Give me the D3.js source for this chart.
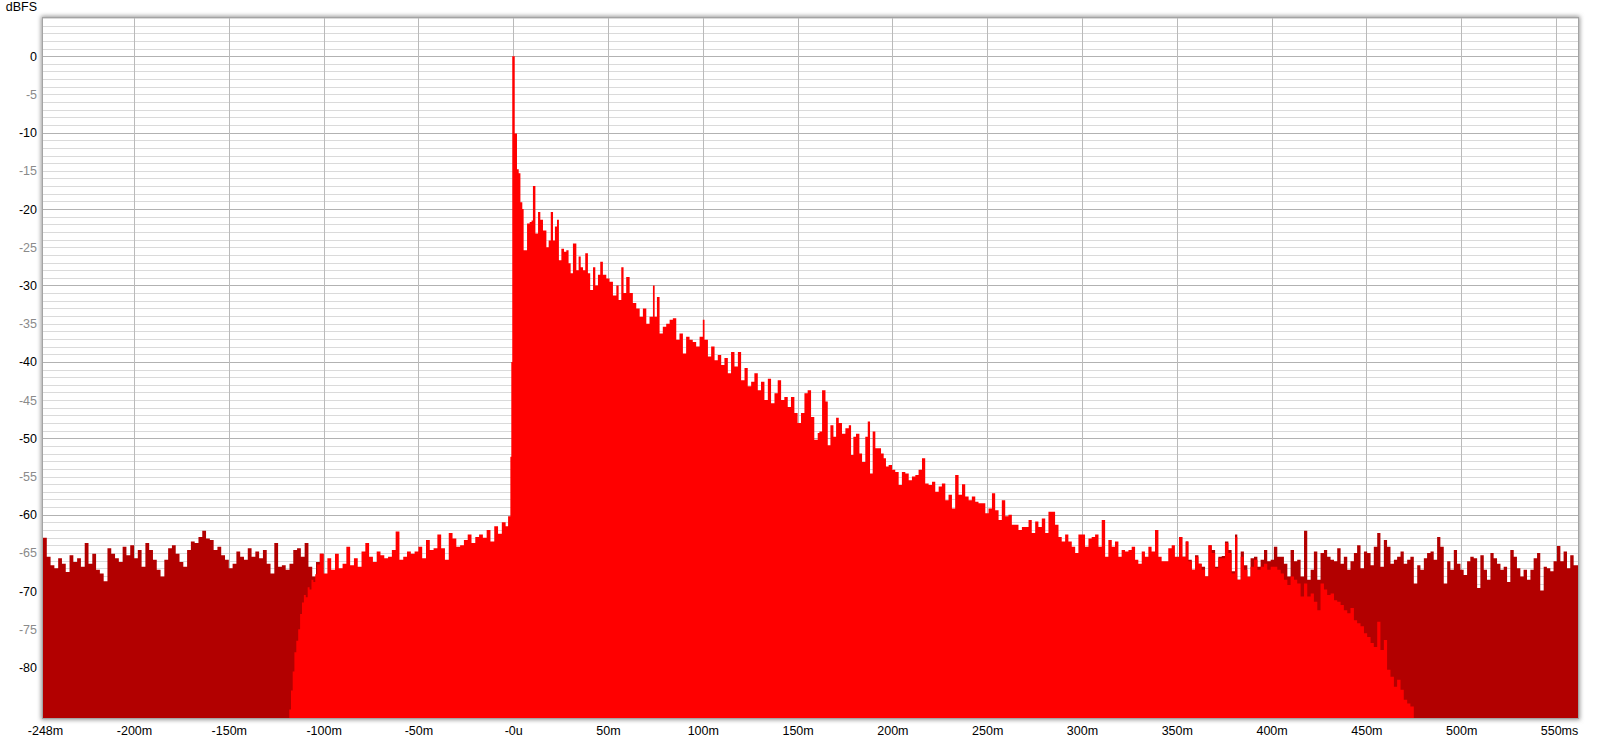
<!DOCTYPE html>
<html><head><meta charset="utf-8">
<script src="https://cdn.jsdelivr.net/npm/d3@7"></script>
<style>
body{margin:0;background:#fff}
svg{display:block}
text{font-family:"Liberation Sans",Arial,sans-serif;font-size:12.5px}
</style>
</head><body>
<svg id="chart" width="1600" height="743"></svg>
<script>
// ---- data (time in ms, level in dBFS) ----
const xTicks = [-248,-200,-150,-100,-50,0,50,100,150,200,250,300,350,400,450,500,550];
const xTickLabels = ["-248m","-200m","-150m","-100m","-50m","-0u","50m","100m","150m","200m","250m","300m","350m","400m","450m","500m","550ms"];
const yTicks = [0,-5,-10,-15,-20,-25,-30,-35,-40,-45,-50,-55,-60,-65,-70,-75,-80];
const yTickLabels = ["0","-5","-10","-15","-20","-25","-30","-35","-40","-45","-50","-55","-60","-65","-70","-75","-80"];
const yTitle = "dBFS";

// unwindowed impulse response, visible before the window opens
const noiseLeft = [[-248,-63.0],[-246,-65.5],[-244,-66.6],[-242,-67.0],[-240,-65.7],[-238,-66.4],[-236,-67.5],[-234,-65.3],[-232,-66.2],[-230,-65.7],[-228,-66.8],[-226,-63.7],[-224,-66.4],[-222,-65.1],[-220,-67.2],[-218,-67.7],[-216,-68.7],[-214,-64.4],[-212,-65.1],[-210,-65.7],[-208,-66.2],[-206,-64.2],[-204,-65.3],[-202,-64.0],[-200,-65.7],[-198,-64.6],[-196,-66.8],[-194,-63.7],[-192,-64.6],[-190,-65.9],[-188,-67.2],[-186,-68.1],[-184,-65.9],[-182,-64.4],[-180,-64.0],[-178,-65.1],[-176,-66.2],[-174,-66.8],[-172,-64.6],[-170,-63.5],[-168,-63.7],[-166,-62.9],[-164,-62.1],[-162,-63.1],[-160,-63.3],[-158,-64.6],[-156,-64.2],[-154,-65.3],[-152,-65.9],[-150,-67.0],[-148,-66.4],[-146,-64.8],[-144,-65.5],[-142,-65.9],[-140,-64.4],[-138,-65.5],[-136,-64.8],[-134,-65.7],[-132,-64.6],[-130,-66.4],[-128,-67.7],[-126,-63.7],[-124,-66.8],[-122,-66.6],[-120,-67.2],[-118,-66.4],[-116,-64.6],[-114,-64.4],[-112,-65.5],[-110,-63.7],[-108,-66.8],[-106,-68.1],[-104,-66.2],[-102,-65.1],[-100,-65.1]];

// windowed impulse response
const windowed = [[-118.1,-85.5],[-117.2,-83.0],[-116.3,-80.5],[-115.4,-78.0],[-114.4,-76.5],[-113.4,-75.0],[-112.4,-73.0],[-111.4,-71.5],[-110.4,-70.5],[-109.4,-70.8],[-108.4,-69.5],[-107.4,-69.8],[-106.4,-68.5],[-105.4,-68.8],[-104.4,-67.8],[-103.4,-66.5],
[-102,-65.1],[-100,-67.7],[-98,-65.7],[-96,-67.2],[-94,-65.1],[-92,-67.0],[-90,-66.4],[-88,-64.2],[-86,-66.6],[-84,-65.7],[-82,-66.8],[-80,-64.8],[-78,-63.7],[-76,-65.5],[-74,-66.2],[-72,-64.8],[-70,-65.3],[-68,-65.7],[-66,-65.5],[-64,-64.6],[-62,-62.2],[-60,-65.9],[-58,-65.5],[-56,-64.8],[-54,-65.1],[-52,-64.8],[-50,-64.2],[-48,-65.7],[-46,-63.3],[-44,-64.6],[-42,-64.4],[-40,-62.6],[-38,-64.4],[-36,-65.9],[-34,-62.4],[-32,-63.1],[-30,-64.2],[-28,-64.0],[-26,-63.3],[-24,-62.6],[-22,-63.7],[-20,-62.9],[-18,-62.6],[-16,-63.0],[-14,-62.0],[-12,-63.5],[-10,-61.5],[-8,-62.5],[-6,-61.0],[-4,-61.5],[-2.7,-60.2],[-1.5,-52.4],[-1.0,-40.0],
[-0.5,0.0],[0.8,-10.1],[2.0,-14.8],[2.9,-15.3],[3.8,-19.1],[4.8,-20.0],[5.5,-25.4],[7.3,-21.9],[8.7,-21.7],[9.7,-21.5],[10.4,-17.0],[11.7,-23.2],[13.1,-20.4],[14.3,-21.4],[15.7,-22.8],[17.5,-25.0],[18.7,-24.1],[19.8,-20.4],[21.0,-24.1],[22.0,-22.3],[23.1,-21.4],[24.1,-26.7],[25.4,-25.2],[26.8,-25.6],[28.0,-25.4],[29.2,-27.1],[30.3,-28.4],[31.5,-24.5],[33.3,-28.0],[34.5,-26.2],[35.6,-27.6],[36.8,-28.0],[38.0,-25.8],[39.4,-28.4],[40.6,-30.6],[42.1,-27.6],[43.3,-30.0],[44.7,-28.6],[45.9,-26.9],[47.3,-28.6],[49.1,-29.1],[50.8,-29.5],[52.6,-31.3],[54.4,-30.0],[55.6,-31.9],[57.0,-27.6],[58.2,-31.0],[59.6,-28.9],[61.4,-31.0],[63.1,-32.3],[64.9,-33.0],[66.7,-34.1],[68.4,-33.0],[70.2,-35.0],[71.9,-34.1],[73.7,-30.0],[74.6,-34.1],[75.8,-31.5],[77.2,-36.3],[78.9,-35.4],[80.7,-35.0],[82.5,-34.5],[84.2,-34.3],[86.0,-37.1],[87.7,-36.3],[89.5,-38.9],[91.2,-36.7],[93.0,-37.1],[94.7,-37.4],[96.5,-38.0],[98.3,-36.7],[100.0,-34.5],[100.9,-37.1],[102.7,-39.3],[104.4,-38.0],[106.2,-39.8],[107.9,-39.1],[109.7,-40.4],[111.4,-39.5],[113.2,-41.5],[114.9,-38.7],[116.7,-40.6],[118.5,-38.7],[120.2,-42.4],[122.0,-40.8],[123.7,-43.2],[125.5,-42.6],[127.2,-41.5],[129.0,-43.7],[130.7,-42.6],[132.5,-45.0],[134.3,-42.2],[136.0,-45.4],[137.8,-44.1],[139.5,-42.4],[141.3,-45.0],[143.0,-44.6],[144.8,-45.9],[146.5,-44.6],[148.3,-46.7],[150.0,-48.0],[151.8,-46.7],[153.6,-44.1],[155.3,-43.7],[157.1,-47.2],[158.8,-50.2],[160.6,-49.3],
[161.5,-49.1],[162.9,-43.7],[164.7,-45.2],[165.9,-50.9],[167.3,-48.3],[168.9,-49.8],[170.3,-47.3],[171.7,-48.0],[173.4,-49.4],[175.2,-48.7],[177.0,-48.3],[178.2,-52.2],[179.4,-49.8],[180.8,-49.4],[182.6,-52.0],[184.0,-53.1],[185.7,-49.8],[187.0,-47.8],[188.2,-54.6],[189.6,-49.1],[191.0,-51.3],[192.8,-51.3],[194.0,-52.0],[195.4,-52.6],[196.6,-53.7],[198.0,-53.5],[199.8,-54.1],[201.5,-54.4],[203.3,-56.1],[205.0,-54.4],[206.8,-54.6],[208.6,-55.5],[210.3,-55.0],[212.1,-54.8],[213.8,-54.1],[215.6,-52.6],[217.3,-55.9],[219.1,-56.1],[220.9,-55.7],[222.6,-57.0],[224.4,-56.3],[226.1,-55.9],[227.9,-58.1],[229.6,-57.4],[231.4,-59.2],[233.1,-54.8],[234.9,-57.4],[236.7,-56.0],[238.4,-57.6],[240.2,-58.1],[241.9,-57.6],[243.7,-58.3],[245.4,-58.5],[247.2,-58.5],[249.0,-59.8],[250.7,-59.2],[252.5,-57.2],[254.2,-59.4],[256.0,-60.7],[257.7,-58.1],[259.5,-60.2],[261.2,-60.0],[263.0,-61.3],[264.8,-61.3],[266.5,-62.0],[268.3,-61.6],[270.0,-61.6],[271.8,-60.7],[273.5,-62.4],[275.3,-60.9],[277.0,-61.6],[278.8,-60.5],[280.6,-62.4],[282.3,-59.6],[284.1,-59.6],[285.8,-61.3],[287.6,-62.9],[289.3,-63.5],[291.1,-62.6],[292.8,-63.5],[294.6,-64.2],[296.4,-65.0],[298.1,-62.6],[299.9,-62.6],[301.6,-64.2],[303.4,-63.1],[305.1,-62.9],[306.9,-62.6],[308.7,-64.2],[310.4,-60.7],[312.2,-65.5],[313.9,-63.3],[315.7,-64.2],[317.4,-63.5],[319.2,-65.5],[320.9,-64.6],[322.7,-64.8],[324.5,-64.6],[326.2,-64.2],[328.0,-65.9],[329.7,-66.4],[331.5,-64.8],[333.2,-65.5],[335.0,-64.2],[336.7,-64.8],[338.5,-62.0],[340.3,-65.5],[342.0,-66.1],[343.8,-66.1],[345.5,-64.4],[347.3,-64.0],[349.0,-65.5],
[351.2,-62.9],[352.9,-65.5],[354.7,-63.5],[356.1,-66.1],[357.9,-67.2],[359.6,-65.5],[361.4,-66.4],[363.1,-67.2],[364.9,-68.1],[366.7,-64.0],[368.4,-65.0],[370.2,-67.0],[371.9,-65.7],[373.7,-65.7],[375.4,-63.7],[377.2,-65.0],[378.9,-67.7],[380.7,-62.9],[381.9,-68.5],[383.7,-65.5],[385.4,-67.2],[387.2,-68.1],[388.9,-66.8],[390.7,-65.9],[392.5,-67.2],[394.2,-66.8],[396.0,-66.4],[397.7,-67.2],[399.5,-66.8],[401.2,-66.8],[403.0,-67.2],[404.8,-67.7],[406.5,-68.5],[408.3,-69.2],[410.0,-68.1],[411.8,-68.5],[413.5,-69.0],[415.3,-70.7],[417.1,-69.0],[418.8,-70.7],[420.6,-70.3],[422.3,-71.4],[424.1,-72.5],[425.8,-69.0],[427.6,-69.8],[429.3,-70.5],[431.1,-70.3],[432.9,-71.2],[434.6,-71.4],[436.4,-71.8],[438.1,-72.5],[439.9,-72.9],[441.6,-72.2],[443.4,-73.8],[445.1,-74.2],[446.9,-74.6],[448.7,-75.5],[450.4,-76.0],[452.2,-76.8],[453.9,-77.3],[455.7,-74.0],[457.4,-77.7],[459.2,-76.4],[460.9,-80.3],[462.7,-81.2],[464.5,-82.5],[466.2,-81.6],[468.0,-82.9],[469.7,-84.2],[471.5,-84.7],[473.2,-85.1],[475.0,-90.0]];

// unwindowed impulse response, visible after the window closes
const noiseRight = [[351.2,-62.9],[352.9,-65.5],[354.7,-63.5],[356.1,-65.9],[357.9,-67.2],[359.6,-65.3],[361.4,-66.4],[363.1,-66.8],[364.9,-68.1],[366.7,-64.0],[368.4,-64.6],[370.2,-66.8],[371.9,-65.5],[373.7,-65.4],[375.4,-63.5],[377.2,-64.6],[378.9,-67.4],[380.7,-62.6],[381.9,-68.5],[383.7,-64.8],[385.4,-66.6],[387.2,-68.3],[388.9,-65.7],[390.7,-65.5],[392.5,-66.8],[394.2,-65.9],[396.0,-64.6],[397.7,-66.1],[399.5,-65.9],[401.2,-64.2],[403.0,-65.5],[404.8,-65.5],[406.5,-66.4],[408.3,-68.1],[410.0,-64.6],[411.8,-66.1],[413.5,-65.9],[415.3,-68.1],[417.1,-62.1],[418.8,-68.5],[420.6,-67.2],[422.3,-64.8],[424.1,-68.5],[425.8,-65.0],[427.6,-64.6],[429.3,-65.5],[431.1,-65.9],[432.9,-66.1],[434.6,-64.4],[436.4,-66.4],[438.1,-65.5],[439.9,-67.2],[441.6,-66.1],[443.4,-65.0],[445.1,-64.0],[446.9,-67.0],[448.7,-64.8],[450.4,-65.0],[452.2,-66.6],[453.9,-64.2],[455.7,-62.4],[457.4,-66.8],[459.2,-63.3],[460.9,-64.2],[462.7,-66.4],[464.5,-65.9],[466.2,-65.5],[468.0,-64.8],[469.7,-66.4],[471.5,-65.9],[473.2,-65.5],[475.0,-69.0],[476.8,-66.6],[478.5,-67.2],[480.3,-65.7],[482.0,-65.0],[483.8,-64.8],[485.5,-65.9],[487.3,-62.9],[489.0,-64.2],[490.8,-69.0],[492.6,-66.1],[494.3,-67.2],[496.1,-64.6],[497.8,-66.4],[499.6,-67.2],[501.3,-67.9],[503.1,-66.1],[504.8,-65.5],[506.6,-65.7],[508.4,-69.6],[510.1,-65.3],[511.9,-67.2],[513.6,-68.5],[515.4,-65.0],[517.1,-65.7],[518.9,-66.4],[520.7,-67.2],[522.4,-66.8],[524.2,-68.8],[525.9,-64.6],[527.7,-65.5],[529.4,-67.0],[531.2,-68.1],[532.9,-67.2],[534.7,-68.5],[536.5,-67.2],[538.2,-65.7],[540.0,-65.0],[541.7,-69.9],[543.5,-66.8],[545.2,-67.0],[547.0,-67.4],[548.7,-66.1],[550.5,-64.1],[552.3,-66.1],[554.0,-64.8],[555.8,-67.0],[557.5,-65.3],[559.3,-66.6],[561.0,-66.6],[561.6,-66.6]];

// ---- layout ----
const W = 1600, H = 743;
const plot = {left: 43, top: 18, right: 1578, bottom: 718};
const xDomain = [-248, 561.6];
const yDomain = [-86.6, 5];

const svg = d3.select("#chart");
const x = d3.scaleLinear().domain(xDomain).range([plot.left, plot.right]);
const y = d3.scaleLinear().domain(yDomain).range([plot.bottom, plot.top]).clamp(true);

const defs = svg.append("defs");
const f = defs.append("filter").attr("id","shadow").attr("x","-5%").attr("y","-5%").attr("width","110%").attr("height","110%");
f.append("feGaussianBlur").attr("stdDeviation", 2);
defs.append("clipPath").attr("id","clip").append("rect")
  .attr("x", plot.left).attr("y", plot.top)
  .attr("width", plot.right - plot.left).attr("height", plot.bottom - plot.top);

// frame shadow
svg.append("rect")
  .attr("x", plot.left - 2).attr("y", plot.top - 2)
  .attr("width", plot.right - plot.left + 4).attr("height", plot.bottom - plot.top + 4)
  .attr("fill", "#9a9a9a").attr("filter", "url(#shadow)");
svg.append("rect")
  .attr("x", plot.left).attr("y", plot.top)
  .attr("width", plot.right - plot.left).attr("height", plot.bottom - plot.top)
  .attr("fill", "#fff");

// grid
const g = svg.append("g").attr("clip-path", "url(#clip)");
const minorY = d3.range(5, -87, -1).filter(v => v % 10 !== 0);
const majorY = d3.range(0, -87, -10);
g.selectAll(".minY").data(minorY).join("line")
  .attr("x1", plot.left).attr("x2", plot.right)
  .attr("y1", d => Math.round(y(d)) + 0.5).attr("y2", d => Math.round(y(d)) + 0.5)
  .attr("stroke", "#dadada").attr("stroke-width", 1);
g.selectAll(".majY").data(majorY).join("line")
  .attr("x1", plot.left).attr("x2", plot.right)
  .attr("y1", d => Math.round(y(d)) + 0.5).attr("y2", d => Math.round(y(d)) + 0.5)
  .attr("stroke", "#b2b2b2").attr("stroke-width", 1);
g.selectAll(".vx").data(xTicks.slice(1)).join("line")
  .attr("y1", plot.top).attr("y2", plot.bottom)
  .attr("x1", d => Math.round(x(d)) + 0.5).attr("x2", d => Math.round(x(d)) + 0.5)
  .attr("stroke", "#bababa").attr("stroke-width", 1);

// series
const area = d3.area()
  .x(d => x(d[0]))
  .y0(plot.bottom)
  .y1(d => y(d[1]))
  .curve(d3.curveStepAfter);

g.append("path").datum(noiseLeft).attr("d", area).attr("fill", "#b20000");
g.append("path").datum(noiseRight).attr("d", area).attr("fill", "#b20000");
g.append("path").datum(windowed).attr("d", area).attr("fill", "#ff0000");

// frame border
svg.append("rect")
  .attr("x", plot.left - 0.5).attr("y", plot.top - 0.5)
  .attr("width", plot.right - plot.left + 1).attr("height", plot.bottom - plot.top + 1)
  .attr("fill", "none").attr("stroke", "#a4a4a4");

// x axis labels
const xAxis = d3.axisBottom(x).tickValues(xTicks)
  .tickFormat((d, i) => xTickLabels[i]).tickSize(0).tickPadding(0);
const xa = svg.append("g").attr("transform", `translate(0,${plot.bottom})`).call(xAxis);
xa.select(".domain").remove();
xa.selectAll("text")
  .attr("y", 17).attr("dy", 0)
  .attr("dx", (d, i) => i === xTicks.length - 1 ? 3 : (i === 0 ? 2 : 0))
  .attr("fill", "#000")
  .style("font-family", '"Liberation Sans",Arial,sans-serif').style("font-size", "12.5px");

// y axis labels
const yAxis = d3.axisLeft(y).tickValues(yTicks)
  .tickFormat((d, i) => yTickLabels[i]).tickSize(0).tickPadding(0);
const ya = svg.append("g").attr("transform", `translate(37,0)`).call(yAxis);
ya.select(".domain").remove();
ya.selectAll("text")
  .attr("fill", d => d % 10 === 0 ? "#000" : "#8a8a8a")
  .style("font-family", '"Liberation Sans",Arial,sans-serif').style("font-size", "12.5px");

svg.append("text").attr("x", 37).attr("y", 11).attr("text-anchor", "end")
  .attr("fill", "#000").text(yTitle);
</script>
</body></html>
